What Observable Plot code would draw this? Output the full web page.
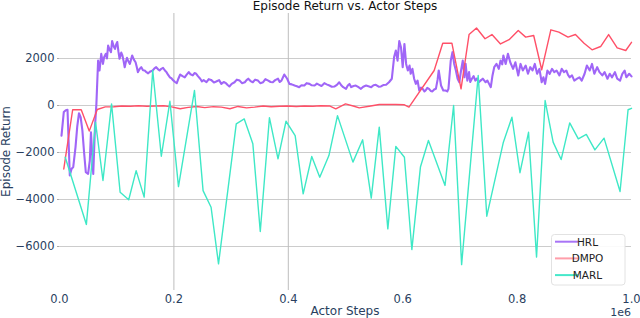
<!DOCTYPE html>
<html><head><meta charset="utf-8">
<script src="https://cdn.jsdelivr.net/npm/d3@7"></script>
<script src="https://cdn.jsdelivr.net/npm/@observablehq/plot@0.6"></script>
<style>html,body{margin:0;padding:0;background:#fff}svg{display:block}</style>
</head><body><div id="chart"></div>
<script>
const titleText = "Episode Return vs. Actor Steps";
const xLabel = "Actor Steps";
const yLabel = "Episode Return";
const xOffsetLabel = "1e6";
const seriesNames = ["HRL", "DMPO", "MARL"];
const seriesColors = ["#a066f7", "#ff5068", "#3ee8c6"];
const legendColors = ["#a874f6", "#ff9eaa", "#46e8ca"];
const yTicks = [2000, 0, -2000, -4000, -6000];
const xTicks = [0, 0.2, 0.4, 0.6, 0.8, 1.0];
const xGrid = [0.2, 0.4];

// x in units of 1e6 actor steps, y = episode return
const hrl = [[0.0035,-1280],[0.0075,-280],[0.011,-200],[0.014,-180],[0.018,-2980],[0.021,-2700],[0.024,-2620],[0.028,-1770],[0.031,-900],[0.034,-330],[0.037,-500],[0.040,-1060],[0.043,-2000],[0.046,-2840],[0.050,-2910],[0.053,-2340],[0.055,-1140],[0.059,-2910],[0.062,-920],[0.0645,70],[0.0675,1910],[0.070,1490],[0.073,2200],[0.076,1770],[0.078,2050],[0.081,2200],[0.083,2000],[0.085,2550],[0.088,2350],[0.090,2270],[0.092,2740],[0.095,2500],[0.097,2410],[0.099,2600],[0.101,2700],[0.103,2300],[0.105,1990],[0.108,2250],[0.110,2130],[0.112,1900],[0.114,1630],[0.116,1850],[0.118,2030],[0.120,1900],[0.123,1770],[0.125,1950],[0.127,2130],[0.130,1950],[0.133,1840],[0.135,1650],[0.137,1420],[0.140,1550],[0.143,1630],[0.146,1500],[0.149,1490],[0.152,1420],[0.155,1370],[0.159,1450],[0.163,1490],[0.166,1580],[0.169,1630],[0.172,1550],[0.175,1490],[0.178,1560],[0.181,1600],[0.184,1500],[0.187,1420],[0.190,1300],[0.193,1200],[0.196,1150],[0.198,1090],[0.202,1000],[0.205,950],[0.208,1150],[0.211,1320],[0.215,1250],[0.219,1200],[0.222,1300],[0.226,1420],[0.229,1330],[0.233,1280],[0.236,1380],[0.239,1350],[0.242,1250],[0.246,1140],[0.249,1030],[0.252,1080],[0.257,990],[0.261,1120],[0.265,1090],[0.270,980],[0.274,1020],[0.279,1080],[0.283,920],[0.287,1000],[0.291,950],[0.294,870],[0.297,810],[0.301,920],[0.306,990],[0.310,1100],[0.315,1060],[0.319,950],[0.324,990],[0.327,1080],[0.330,1140],[0.334,1040],[0.338,990],[0.342,1100],[0.347,1060],[0.351,950],[0.356,990],[0.360,1120],[0.365,1060],[0.369,1000],[0.373,990],[0.377,1080],[0.382,1140],[0.385,1000],[0.388,1060],[0.393,1320],[0.398,1140],[0.402,920],[0.406,900],[0.411,850],[0.415,820],[0.419,780],[0.423,860],[0.428,850],[0.432,950],[0.437,920],[0.441,860],[0.446,850],[0.450,930],[0.454,880],[0.458,830],[0.463,950],[0.467,900],[0.472,850],[0.476,800],[0.481,810],[0.485,880],[0.489,990],[0.493,850],[0.496,780],[0.501,710],[0.504,850],[0.507,920],[0.510,780],[0.514,830],[0.518,850],[0.522,790],[0.527,710],[0.531,800],[0.536,850],[0.540,820],[0.545,780],[0.549,860],[0.553,880],[0.558,800],[0.562,810],[0.566,870],[0.571,880],[0.576,990],[0.581,1140],[0.583,1600],[0.585,2060],[0.588,2340],[0.591,1910],[0.594,2740],[0.597,2480],[0.600,1630],[0.603,2620],[0.606,1770],[0.609,1490],[0.612,1700],[0.614,1350],[0.617,1560],[0.620,1140],[0.623,920],[0.626,1060],[0.629,640],[0.632,760],[0.635,710],[0.638,600],[0.640,640],[0.643,750],[0.646,710],[0.649,620],[0.652,600],[0.655,680],[0.658,710],[0.661,1100],[0.663,1490],[0.667,850],[0.671,640],[0.675,640],[0.678,600],[0.680,710],[0.684,1910],[0.687,2270],[0.690,1770],[0.693,1490],[0.696,1140],[0.699,990],[0.702,1490],[0.705,1910],[0.708,1200],[0.710,1770],[0.713,1060],[0.716,1420],[0.718,1000],[0.721,1140],[0.724,1250],[0.727,1060],[0.730,1150],[0.733,990],[0.737,1080],[0.740,1140],[0.743,1050],[0.745,990],[0.748,1060],[0.751,920],[0.754,780],[0.757,1280],[0.760,1630],[0.764,1770],[0.768,1560],[0.771,1910],[0.774,1750],[0.776,2130],[0.780,1770],[0.784,2200],[0.788,1840],[0.793,1560],[0.797,1840],[0.802,1280],[0.806,1770],[0.810,1490],[0.815,1700],[0.819,1350],[0.823,1630],[0.827,1490],[0.831,1770],[0.835,1350],[0.839,1560],[0.843,990],[0.846,1200],[0.849,920],[0.853,1490],[0.857,1350],[0.861,1560],[0.865,1420],[0.869,1490],[0.874,1280],[0.878,1560],[0.882,1420],[0.886,1490],[0.889,1300],[0.892,1200],[0.896,1280],[0.900,1060],[0.905,1140],[0.909,1200],[0.913,1060],[0.918,1350],[0.922,1700],[0.927,1490],[0.931,1770],[0.935,1350],[0.940,1630],[0.944,1420],[0.949,1280],[0.953,1420],[0.958,1140],[0.962,1350],[0.966,1200],[0.971,1420],[0.975,1140],[0.980,1060],[0.984,1350],[0.988,1490],[0.991,1200],[0.996,1350],[1.0,1240]];

const dmpo = [[0.0075,-2700],[0.023,-180],[0.038,-180],[0.052,-1090],[0.066,-170],[0.080,-60],[0.095,-50],[0.109,-20],[0.124,-30],[0.138,-10],[0.153,-30],[0.167,-20],[0.182,-10],[0.196,-60],[0.211,-140],[0.225,-80],[0.240,-40],[0.254,-90],[0.269,-50],[0.283,-70],[0.298,-140],[0.312,-40],[0.327,-100],[0.341,-70],[0.356,-20],[0.370,-50],[0.385,-30],[0.399,-20],[0.414,-40],[0.428,-20],[0.443,-30],[0.457,-10],[0.472,-20],[0.483,-140],[0.500,70],[0.515,-30],[0.524,-100],[0.544,-20],[0.559,40],[0.573,40],[0.588,40],[0.603,30],[0.611,-70],[0.655,1490],[0.670,2650],[0.686,2650],[0.702,710],[0.716,3020],[0.729,3300],[0.744,2840],[0.756,3020],[0.771,2620],[0.786,2800],[0.802,3190],[0.815,2910],[0.829,2980],[0.843,1520],[0.859,3220],[0.873,3120],[0.889,2910],[0.902,3020],[0.917,2650],[0.931,2370],[0.946,2510],[0.960,3020],[0.975,2450],[0.990,2340],[1.0,2690]];

const marl = [[0.010,-2200],[0.047,-5060],[0.063,-710],[0.076,-3190],[0.091,70],[0.106,-3690],[0.121,-4010],[0.134,-2770],[0.148,-3900],[0.163,1490],[0.178,-2160],[0.193,180],[0.208,-3450],[0.236,640],[0.251,-3620],[0.265,-4330],[0.278,-6740],[0.309,-780],[0.323,-570],[0.338,-1630],[0.351,-5360],[0.367,-520],[0.382,-2270],[0.396,-670],[0.412,-1280],[0.426,-3760],[0.441,-2170],[0.455,-3050],[0.471,-2130],[0.486,-430],[0.513,-2410],[0.530,-1460],[0.545,-3940],[0.559,-920],[0.574,-5250],[0.588,-1740],[0.603,-2200],[0.616,-6130],[0.631,-2620],[0.645,-1490],[0.674,-3400],[0.689,0],[0.703,-6770],[0.732,1280],[0.747,-4710],[0.776,-1560],[0.791,-500],[0.805,-2860],[0.820,-1140],[0.834,-6450],[0.849,210],[0.863,-1560],[0.877,-2300],[0.892,-740],[0.907,-1420],[0.921,-1230],[0.936,-1890],[0.952,-1390],[0.980,-3660],[0.994,-180],[1.0,-120]];

const seriesData = [hrl, dmpo, marl];

const W = 640, H = 318;
const M = {top: 13, right: 9, bottom: 28, left: 59};
const textColor = "#2a3f5f";

const plot = Plot.plot({
  width: W, height: H,
  marginTop: M.top, marginRight: M.right, marginBottom: M.bottom, marginLeft: M.left,
  style: {fontFamily: "'DejaVu Sans', sans-serif", fontSize: "11.5px", color: textColor, background: "#fff", overflow: "visible"},
  x: {domain: [0, 1]},
  y: {domain: [-7872, 3915]},
  marks: [
    Plot.ruleY(yTicks, {stroke: "#cccccc", strokeWidth: 1}),
    Plot.ruleX(xGrid, {stroke: "#bdbdbd", strokeWidth: 1}),
    Plot.axisY({ticks: yTicks, tickSize: 2, tickPadding: 3, tickFormat: d3.format("d"), label: null, stroke: "#aaaaaa", fill: textColor}),
    Plot.axisX({ticks: xTicks, tickSize: 0, tickPadding: 4.5, tickFormat: d3.format(".1f"), label: null, fill: textColor}),
    ...seriesData.map((d, i) => Plot.line(d, {x: p => p[0], y: p => p[1], stroke: seriesColors[i], strokeWidth: i === 0 ? 2.1 : 1.4, strokeLinejoin: "round"}))
  ]
});

document.getElementById("chart").appendChild(plot);
const svg = d3.select(plot);

svg.append("text").attr("x", (M.left + W - M.right) / 2).attr("y", 9.5)
  .attr("text-anchor", "middle").attr("font-size", 12).attr("fill", "#111").text(titleText);
svg.append("text").attr("x", (M.left + W - M.right) / 2).attr("y", 315)
  .attr("text-anchor", "middle").attr("font-size", 12).attr("fill", textColor).text(xLabel);
svg.append("text").attr("x", W - M.right).attr("y", 315.8)
  .attr("text-anchor", "end").attr("font-size", 11).attr("fill", textColor).text(xOffsetLabel);
svg.append("text").attr("transform", `translate(9.5,${(M.top + H - M.bottom) / 2}) rotate(-90)`)
  .attr("text-anchor", "middle").attr("font-size", 12).attr("fill", textColor).text(yLabel);

const lg = svg.append("g");
lg.append("rect").attr("x", 551.5).attr("y", 234.5).attr("width", 73.5).attr("height", 50.5)
  .attr("rx", 3).attr("fill", "#fff").attr("fill-opacity", 0.9).attr("stroke", "#e2e2e2");
seriesNames.forEach((name, i) => {
  const cy = 241.7 + i * 16.7;
  lg.append("line").attr("x1", 555).attr("x2", 578).attr("y1", cy).attr("y2", cy)
    .attr("stroke", legendColors[i]).attr("stroke-width", 2);
  lg.append("text").attr("x", 587.5).attr("y", cy + 3.9).attr("font-size", 10.5)
    .attr("fill", "#222").text(name);
});
</script></body></html>
